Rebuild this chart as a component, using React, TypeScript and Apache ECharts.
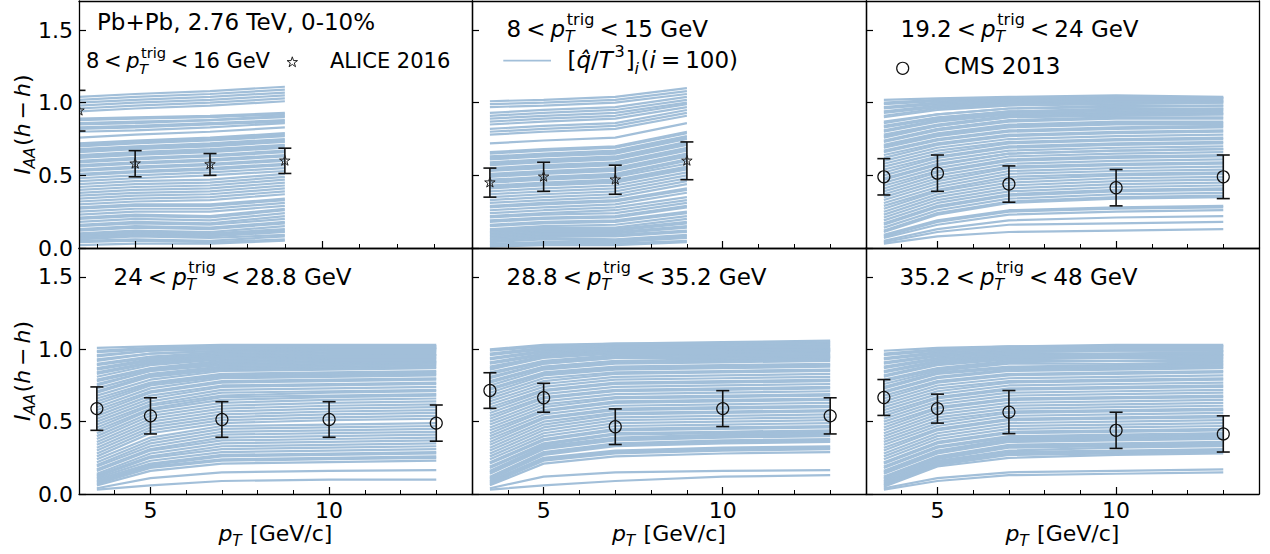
import React, { useEffect, useRef } from "react";
import * as echarts from "echarts";

// ---------------- data ----------------
const aliceX = [3.5, 5, 7, 9];
const cmsX = [3.5, 5, 7, 10, 13];
const yTicks = [0, 0.5, 1.0, 1.5];
const xMajor = [5, 10];
const xMinor = [4, 6, 7, 8, 9, 11, 12, 13];

// ALICE 2016 points: [pT, IAA, error]
const alice8to16 = [[3.5, 0.945, 0.14], [5, 0.58, 0.09], [7, 0.575, 0.075], [9, 0.6, 0.087]];
const alice8to15 = [[3.5, 0.45, 0.1], [5, 0.49, 0.1], [7, 0.47, 0.1], [9, 0.6, 0.13]];
// CMS 2013 points
const cms19to24 = [[3.5, 0.49, 0.125], [5, 0.515, 0.125], [7, 0.44, 0.125], [10, 0.415, 0.125], [13, 0.49, 0.15]];
const cms24to29 = [[3.5, 0.59, 0.15], [5, 0.54, 0.125], [7, 0.515, 0.123], [10, 0.515, 0.123], [13, 0.49, 0.125]];
const cms29to35 = [[3.5, 0.715, 0.123], [5, 0.665, 0.1], [7, 0.465, 0.123], [10, 0.59, 0.124], [13, 0.54, 0.125]];
const cms35to48 = [[3.5, 0.667, 0.124], [5, 0.59, 0.1], [7, 0.566, 0.149], [10, 0.44, 0.125], [13, 0.415, 0.125]];

// model curves [qhat/T^3]_i, values at aliceX
const model8to16 = [
  [1.04, 1.06, 1.08, 1.11], [1.02, 1.04, 1.06, 1.09], [1.0, 1.02, 1.04, 1.07], [0.98, 1.0, 1.02, 1.05], [0.96, 0.98, 1.0, 1.03], [0.94, 0.96, 0.98, 1.01],
  [0.89, 0.9, 0.91, 0.93], [0.88, 0.89, 0.9, 0.92], [0.86, 0.87, 0.88, 0.91], [0.85, 0.86, 0.88, 0.9], [0.83, 0.84, 0.86, 0.88], [0.82, 0.83, 0.85, 0.87], [0.8, 0.81, 0.83, 0.86], [0.76, 0.78, 0.8, 0.83],
  [0.72, 0.74, 0.76, 0.79], [0.71, 0.73, 0.75, 0.78], [0.7, 0.72, 0.74, 0.77], [0.68, 0.7, 0.72, 0.75], [0.67, 0.69, 0.71, 0.74], [0.66, 0.68, 0.7, 0.73], [0.64, 0.66, 0.68, 0.71], [0.63, 0.65, 0.67, 0.7], [0.62, 0.64, 0.66, 0.69],
  [0.6, 0.62, 0.64, 0.67], [0.59, 0.61, 0.63, 0.66], [0.57, 0.59, 0.61, 0.64], [0.56, 0.58, 0.6, 0.63], [0.54, 0.56, 0.58, 0.61], [0.53, 0.55, 0.57, 0.6], [0.51, 0.53, 0.55, 0.58], [0.5, 0.52, 0.54, 0.57], [0.48, 0.5, 0.52, 0.55],
  [0.46, 0.48, 0.5, 0.53], [0.44, 0.46, 0.47, 0.51], [0.42, 0.44, 0.45, 0.49], [0.4, 0.42, 0.43, 0.47], [0.38, 0.4, 0.41, 0.45], [0.36, 0.38, 0.39, 0.43], [0.34, 0.36, 0.37, 0.41], [0.32, 0.34, 0.35, 0.39], [0.3, 0.32, 0.33, 0.37],
  [0.28, 0.3, 0.3, 0.34], [0.27, 0.29, 0.29, 0.33], [0.25, 0.27, 0.27, 0.31], [0.23, 0.25, 0.25, 0.29], [0.21, 0.23, 0.22, 0.27], [0.2, 0.22, 0.21, 0.26], [0.18, 0.2, 0.19, 0.24], [0.16, 0.18, 0.17, 0.22], [0.15, 0.17, 0.16, 0.2],
  [0.13, 0.15, 0.14, 0.18], [0.12, 0.14, 0.13, 0.17], [0.1, 0.12, 0.11, 0.15], [0.09, 0.11, 0.1, 0.13], [0.08, 0.1, 0.09, 0.12], [0.07, 0.09, 0.08, 0.11], [0.06, 0.08, 0.07, 0.09], [0.05, 0.06, 0.05, 0.08], [0.04, 0.05, 0.04, 0.06], [0.02, 0.03, 0.03, 0.05],
];

const model8to15 = [
  [1.01, 1.02, 1.04, 1.1], [0.99, 1.0, 1.02, 1.08], [0.97, 0.98, 1.0, 1.06], [0.93, 0.95, 0.97, 1.04], [0.91, 0.93, 0.95, 1.02], [0.89, 0.91, 0.93, 1.0], [0.87, 0.89, 0.91, 0.99], [0.85, 0.87, 0.89, 0.97], [0.82, 0.84, 0.86, 0.95], [0.8, 0.82, 0.84, 0.93], [0.78, 0.8, 0.82, 0.91], [0.72, 0.74, 0.76, 0.86],
  [0.66, 0.68, 0.7, 0.8], [0.65, 0.67, 0.69, 0.79], [0.63, 0.65, 0.67, 0.77], [0.62, 0.64, 0.66, 0.76], [0.61, 0.63, 0.65, 0.75], [0.59, 0.61, 0.63, 0.73], [0.58, 0.6, 0.62, 0.72], [0.57, 0.59, 0.61, 0.71], [0.55, 0.57, 0.59, 0.69], [0.54, 0.56, 0.58, 0.68],
  [0.53, 0.55, 0.57, 0.67], [0.51, 0.53, 0.55, 0.65], [0.5, 0.52, 0.54, 0.64], [0.49, 0.51, 0.53, 0.63], [0.47, 0.49, 0.51, 0.61], [0.46, 0.48, 0.5, 0.6], [0.45, 0.47, 0.49, 0.58], [0.43, 0.45, 0.47, 0.56], [0.42, 0.44, 0.46, 0.55], [0.41, 0.43, 0.45, 0.54],
  [0.39, 0.41, 0.43, 0.52], [0.37, 0.39, 0.41, 0.5], [0.35, 0.37, 0.39, 0.48], [0.33, 0.35, 0.37, 0.46], [0.31, 0.33, 0.35, 0.44], [0.29, 0.31, 0.33, 0.41], [0.28, 0.3, 0.32, 0.4], [0.26, 0.28, 0.3, 0.38], [0.24, 0.26, 0.28, 0.35], [0.22, 0.24, 0.26, 0.33],
  [0.21, 0.23, 0.24, 0.31], [0.19, 0.21, 0.22, 0.29], [0.18, 0.2, 0.21, 0.28], [0.16, 0.18, 0.19, 0.25], [0.15, 0.17, 0.18, 0.24], [0.13, 0.15, 0.16, 0.22], [0.12, 0.14, 0.14, 0.2], [0.11, 0.13, 0.13, 0.18], [0.1, 0.12, 0.12, 0.17], [0.09, 0.11, 0.11, 0.15],
  [0.08, 0.1, 0.1, 0.14], [0.07, 0.09, 0.09, 0.12], [0.06, 0.08, 0.08, 0.11], [0.05, 0.07, 0.06, 0.09], [0.04, 0.06, 0.05, 0.08], [0.03, 0.04, 0.04, 0.07], [0.02, 0.03, 0.03, 0.05], [0.01, 0.02, 0.02, 0.04],
];

// values at cmsX
const model19to24 = [
  [1.02, 1.03, 1.04, 1.05, 1.04], [1.0, 1.02, 1.03, 1.04, 1.035], [0.99, 1.01, 1.02, 1.03, 1.03], [0.97, 1.0, 1.02, 1.03, 1.03], [0.96, 0.99, 1.01, 1.02, 1.02], [0.94, 0.98, 1.0, 1.01, 1.01],
  [0.93, 0.97, 1.0, 1.01, 1.01], [0.91, 0.96, 0.99, 1.0, 1.0], [0.9, 0.95, 0.98, 0.99, 1.0], [0.87, 0.92, 0.96, 0.98, 0.98], [0.86, 0.92, 0.96, 0.97, 0.98], [0.84, 0.9, 0.94, 0.96, 0.96],
  [0.83, 0.89, 0.94, 0.95, 0.96], [0.81, 0.88, 0.93, 0.94, 0.95], [0.8, 0.87, 0.92, 0.93, 0.94], [0.78, 0.85, 0.91, 0.92, 0.93], [0.77, 0.84, 0.9, 0.92, 0.92], [0.76, 0.84, 0.9, 0.91, 0.92],
  [0.74, 0.82, 0.88, 0.9, 0.9], [0.73, 0.81, 0.87, 0.89, 0.89], [0.71, 0.79, 0.85, 0.87, 0.87], [0.7, 0.78, 0.84, 0.86, 0.86], [0.69, 0.77, 0.83, 0.85, 0.85], [0.67, 0.75, 0.81, 0.83, 0.84],
  [0.66, 0.74, 0.8, 0.82, 0.83], [0.64, 0.72, 0.78, 0.8, 0.81], [0.62, 0.71, 0.77, 0.79, 0.8], [0.6, 0.69, 0.75, 0.77, 0.78], [0.58, 0.67, 0.73, 0.75, 0.76], [0.56, 0.65, 0.72, 0.74, 0.75],
  [0.54, 0.63, 0.7, 0.72, 0.73], [0.52, 0.62, 0.69, 0.71, 0.72], [0.5, 0.6, 0.67, 0.69, 0.7], [0.48, 0.58, 0.65, 0.67, 0.68], [0.47, 0.57, 0.65, 0.67, 0.68], [0.45, 0.55, 0.63, 0.65, 0.66],
  [0.43, 0.53, 0.61, 0.63, 0.64], [0.41, 0.52, 0.6, 0.62, 0.63], [0.39, 0.5, 0.58, 0.6, 0.61], [0.37, 0.48, 0.56, 0.58, 0.59], [0.35, 0.46, 0.55, 0.57, 0.58], [0.33, 0.44, 0.53, 0.55, 0.56],
  [0.31, 0.42, 0.51, 0.53, 0.54], [0.29, 0.4, 0.49, 0.51, 0.52], [0.27, 0.39, 0.47, 0.5, 0.51], [0.25, 0.37, 0.45, 0.48, 0.49], [0.23, 0.35, 0.43, 0.46, 0.47], [0.21, 0.33, 0.41, 0.44, 0.45],
  [0.19, 0.31, 0.39, 0.42, 0.43], [0.17, 0.29, 0.37, 0.4, 0.41], [0.16, 0.28, 0.36, 0.39, 0.4], [0.14, 0.26, 0.34, 0.37, 0.38], [0.12, 0.24, 0.32, 0.35, 0.36], [0.11, 0.23, 0.31, 0.34, 0.35],
  [0.09, 0.19, 0.26, 0.28, 0.29], [0.08, 0.18, 0.25, 0.27, 0.28], [0.07, 0.16, 0.23, 0.25, 0.26], [0.05, 0.13, 0.19, 0.21, 0.22], [0.04, 0.11, 0.16, 0.17, 0.18], [0.03, 0.08, 0.11, 0.12, 0.13],
];

const model24to29 = [
  [1.01, 1.02, 1.03, 1.03, 1.03], [0.99, 1.01, 1.02, 1.02, 1.02], [0.98, 1.0, 1.02, 1.02, 1.02], [0.96, 0.99, 1.01, 1.01, 1.01], [0.95, 0.99, 1.0, 1.01, 1.01], [0.93, 0.97, 0.99, 1.0, 1.0],
  [0.92, 0.97, 0.99, 1.0, 1.0], [0.9, 0.95, 0.98, 0.99, 0.99], [0.89, 0.94, 0.97, 0.98, 0.98], [0.87, 0.93, 0.96, 0.97, 0.97], [0.86, 0.92, 0.95, 0.96, 0.96], [0.84, 0.91, 0.95, 0.95, 0.96],
  [0.83, 0.9, 0.94, 0.95, 0.95], [0.81, 0.89, 0.93, 0.94, 0.94], [0.79, 0.87, 0.92, 0.93, 0.93], [0.78, 0.86, 0.91, 0.92, 0.92], [0.76, 0.85, 0.9, 0.91, 0.91], [0.75, 0.85, 0.89, 0.9, 0.91],
  [0.73, 0.83, 0.88, 0.89, 0.9], [0.71, 0.82, 0.87, 0.88, 0.89], [0.7, 0.81, 0.86, 0.87, 0.88], [0.68, 0.79, 0.85, 0.86, 0.87], [0.66, 0.77, 0.83, 0.84, 0.85], [0.64, 0.76, 0.82, 0.83, 0.84],
  [0.62, 0.75, 0.81, 0.82, 0.83], [0.6, 0.73, 0.8, 0.81, 0.82], [0.58, 0.71, 0.78, 0.79, 0.8], [0.56, 0.7, 0.77, 0.78, 0.79], [0.54, 0.68, 0.75, 0.76, 0.77], [0.52, 0.66, 0.74, 0.75, 0.76],
  [0.5, 0.64, 0.72, 0.73, 0.74], [0.48, 0.62, 0.7, 0.71, 0.72], [0.46, 0.61, 0.68, 0.7, 0.71], [0.44, 0.59, 0.67, 0.68, 0.69], [0.42, 0.58, 0.65, 0.67, 0.68], [0.4, 0.56, 0.63, 0.65, 0.66],
  [0.38, 0.54, 0.61, 0.63, 0.64], [0.36, 0.52, 0.59, 0.61, 0.62], [0.34, 0.5, 0.57, 0.59, 0.6], [0.32, 0.48, 0.55, 0.57, 0.58], [0.3, 0.46, 0.53, 0.55, 0.56], [0.28, 0.44, 0.51, 0.53, 0.54],
  [0.26, 0.42, 0.49, 0.51, 0.52], [0.24, 0.39, 0.47, 0.48, 0.49], [0.22, 0.37, 0.45, 0.46, 0.47], [0.2, 0.35, 0.43, 0.44, 0.45], [0.19, 0.33, 0.41, 0.42, 0.43], [0.17, 0.31, 0.39, 0.4, 0.41],
  [0.16, 0.3, 0.37, 0.38, 0.39], [0.14, 0.28, 0.35, 0.36, 0.37], [0.13, 0.26, 0.33, 0.34, 0.35], [0.12, 0.25, 0.31, 0.32, 0.33], [0.11, 0.23, 0.29, 0.3, 0.31], [0.1, 0.21, 0.27, 0.28, 0.29],
  [0.09, 0.2, 0.26, 0.27, 0.28], [0.08, 0.19, 0.24, 0.25, 0.26], [0.07, 0.18, 0.23, 0.24, 0.25], [0.06, 0.16, 0.21, 0.22, 0.23], [0.04, 0.11, 0.15, 0.16, 0.165], [0.03, 0.06, 0.09, 0.1, 0.1],
];

const model29to35 = [
  [1.0, 1.03, 1.04, 1.05, 1.06], [0.99, 1.02, 1.04, 1.04, 1.05], [0.97, 1.01, 1.03, 1.03, 1.04], [0.96, 1.0, 1.02, 1.02, 1.03], [0.94, 0.99, 1.01, 1.01, 1.02], [0.93, 0.98, 1.0, 1.01, 1.01],
  [0.91, 0.97, 0.99, 1.0, 1.0], [0.9, 0.96, 0.99, 0.99, 1.0], [0.88, 0.95, 0.98, 0.98, 0.99], [0.87, 0.95, 0.98, 0.98, 0.99], [0.86, 0.94, 0.97, 0.97, 0.98], [0.84, 0.92, 0.96, 0.96, 0.97],
  [0.83, 0.91, 0.95, 0.96, 0.96], [0.81, 0.9, 0.94, 0.95, 0.95], [0.8, 0.9, 0.94, 0.94, 0.95], [0.78, 0.88, 0.92, 0.93, 0.94], [0.77, 0.87, 0.91, 0.92, 0.93], [0.75, 0.86, 0.9, 0.91, 0.92],
  [0.73, 0.84, 0.88, 0.89, 0.9], [0.72, 0.83, 0.87, 0.88, 0.89], [0.7, 0.82, 0.86, 0.87, 0.88], [0.68, 0.8, 0.84, 0.85, 0.86], [0.66, 0.78, 0.83, 0.84, 0.85], [0.64, 0.76, 0.81, 0.82, 0.83],
  [0.62, 0.74, 0.79, 0.8, 0.81], [0.6, 0.72, 0.77, 0.78, 0.79], [0.58, 0.71, 0.76, 0.77, 0.78], [0.56, 0.69, 0.74, 0.75, 0.76], [0.54, 0.67, 0.72, 0.73, 0.74], [0.52, 0.66, 0.71, 0.72, 0.73],
  [0.5, 0.64, 0.69, 0.7, 0.71], [0.48, 0.62, 0.67, 0.68, 0.69], [0.46, 0.6, 0.66, 0.67, 0.68], [0.44, 0.58, 0.64, 0.65, 0.66], [0.42, 0.57, 0.63, 0.64, 0.65], [0.4, 0.55, 0.61, 0.62, 0.63],
  [0.38, 0.53, 0.59, 0.6, 0.61], [0.36, 0.52, 0.58, 0.59, 0.6], [0.34, 0.5, 0.56, 0.57, 0.58], [0.32, 0.48, 0.55, 0.56, 0.57], [0.3, 0.46, 0.53, 0.54, 0.55], [0.28, 0.44, 0.51, 0.52, 0.53],
  [0.26, 0.42, 0.49, 0.5, 0.51], [0.24, 0.4, 0.47, 0.48, 0.49], [0.22, 0.38, 0.45, 0.46, 0.47], [0.21, 0.37, 0.44, 0.45, 0.46], [0.19, 0.35, 0.42, 0.43, 0.44], [0.18, 0.34, 0.41, 0.42, 0.43],
  [0.16, 0.33, 0.39, 0.41, 0.42], [0.15, 0.32, 0.38, 0.4, 0.41], [0.14, 0.31, 0.37, 0.39, 0.4], [0.12, 0.29, 0.35, 0.37, 0.38], [0.11, 0.28, 0.34, 0.36, 0.37], [0.1, 0.27, 0.33, 0.35, 0.36],
  [0.09, 0.25, 0.3, 0.32, 0.33], [0.08, 0.24, 0.29, 0.31, 0.32], [0.07, 0.23, 0.28, 0.3, 0.31], [0.06, 0.21, 0.26, 0.28, 0.29], [0.04, 0.12, 0.15, 0.16, 0.165], [0.03, 0.06, 0.09, 0.12, 0.13],
];

const model35to48 = [
  [0.99, 1.01, 1.02, 1.03, 1.03], [0.97, 1.0, 1.02, 1.02, 1.02], [0.96, 0.99, 1.01, 1.02, 1.02], [0.94, 0.98, 1.0, 1.01, 1.01], [0.93, 0.97, 0.99, 1.0, 1.0], [0.91, 0.96, 0.98, 0.99, 0.99],
  [0.9, 0.95, 0.98, 0.99, 0.99], [0.88, 0.94, 0.97, 0.97, 0.98], [0.87, 0.93, 0.96, 0.97, 0.97], [0.85, 0.92, 0.95, 0.96, 0.96], [0.84, 0.91, 0.95, 0.95, 0.96], [0.82, 0.9, 0.94, 0.94, 0.95],
  [0.81, 0.89, 0.93, 0.94, 0.94], [0.79, 0.87, 0.92, 0.92, 0.93], [0.78, 0.86, 0.91, 0.92, 0.92], [0.76, 0.85, 0.9, 0.9, 0.91], [0.74, 0.84, 0.88, 0.89, 0.9], [0.73, 0.83, 0.87, 0.88, 0.89],
  [0.71, 0.81, 0.86, 0.87, 0.88], [0.7, 0.8, 0.85, 0.86, 0.87], [0.68, 0.78, 0.83, 0.84, 0.85], [0.66, 0.77, 0.82, 0.83, 0.84], [0.64, 0.75, 0.8, 0.81, 0.82], [0.62, 0.73, 0.78, 0.79, 0.8],
  [0.6, 0.71, 0.77, 0.78, 0.79], [0.58, 0.69, 0.75, 0.76, 0.77], [0.56, 0.67, 0.73, 0.74, 0.75], [0.54, 0.66, 0.72, 0.73, 0.74], [0.52, 0.64, 0.7, 0.71, 0.72], [0.5, 0.62, 0.68, 0.69, 0.7],
  [0.48, 0.6, 0.66, 0.67, 0.68], [0.46, 0.59, 0.65, 0.66, 0.67], [0.44, 0.57, 0.63, 0.64, 0.65], [0.42, 0.55, 0.61, 0.62, 0.63], [0.4, 0.53, 0.59, 0.6, 0.61], [0.38, 0.51, 0.57, 0.58, 0.59],
  [0.36, 0.49, 0.56, 0.57, 0.58], [0.34, 0.47, 0.54, 0.55, 0.56], [0.32, 0.45, 0.52, 0.53, 0.54], [0.3, 0.44, 0.51, 0.52, 0.53], [0.28, 0.42, 0.49, 0.5, 0.51], [0.26, 0.4, 0.47, 0.48, 0.49],
  [0.24, 0.38, 0.45, 0.46, 0.47], [0.22, 0.36, 0.43, 0.44, 0.45], [0.21, 0.35, 0.42, 0.43, 0.44], [0.19, 0.33, 0.4, 0.41, 0.42], [0.18, 0.32, 0.39, 0.4, 0.41], [0.16, 0.3, 0.38, 0.39, 0.4],
  [0.15, 0.29, 0.37, 0.38, 0.39], [0.14, 0.28, 0.36, 0.37, 0.38], [0.12, 0.26, 0.34, 0.35, 0.36], [0.11, 0.25, 0.33, 0.34, 0.35], [0.1, 0.24, 0.32, 0.33, 0.34], [0.09, 0.23, 0.3, 0.32, 0.33],
  [0.08, 0.22, 0.29, 0.3, 0.31], [0.07, 0.21, 0.28, 0.29, 0.3], [0.06, 0.2, 0.27, 0.28, 0.29], [0.05, 0.19, 0.25, 0.27, 0.28], [0.04, 0.11, 0.15, 0.16, 0.17], [0.03, 0.09, 0.13, 0.14, 0.15],
];

// ---------------- layout / style ----------------
const FF = '"DejaVu Sans", "Liberation Sans", sans-serif';
const FS = 22; // axis text
const FA = 23; // in-panel annotations
const LINE_COLOR = "#a2bfd9";
const INK = "#000";

const PANELS = [
  { model: model8to16, xs: aliceX, pts: alice8to16, mk: "star", xmin: 3.5, box: [79, 1, 393, 247], row: 0, col: 0, lo: "8", hi: "16", lx: 86, lb: 68.3, lf: 21 },
  { model: model8to15, xs: aliceX, pts: alice8to15, mk: "star", xmin: 3, box: [472, 1, 394, 247], row: 0, col: 1, lo: "8", hi: "15", lx: 506.5, lb: 36.7, lf: FA },
  { model: model19to24, xs: cmsX, pts: cms19to24, mk: "circle", xmin: 3, box: [866, 1, 393, 247], row: 0, col: 2, lo: "19.2", hi: "24", lx: 900.5, lb: 36.7, lf: FA },
  { model: model24to29, xs: cmsX, pts: cms24to29, mk: "circle", xmin: 3, box: [79, 248, 393, 246], row: 1, col: 0, lo: "24", hi: "28.8", lx: 113.5, lb: 285, lf: FA },
  { model: model29to35, xs: cmsX, pts: cms29to35, mk: "circle", xmin: 3, box: [472, 248, 394, 246], row: 1, col: 1, lo: "28.8", hi: "35.2", lx: 506.5, lb: 285, lf: FA },
  { model: model35to48, xs: cmsX, pts: cms35to48, mk: "circle", xmin: 3, box: [866, 248, 393, 246], row: 1, col: 2, lo: "35.2", hi: "48", lx: 899.5, lb: 285, lf: FA },
];

let measureCtx: CanvasRenderingContext2D | null = null;
function textWidth(t: string, size: number, italic: boolean): number {
  if (!measureCtx) measureCtx = document.createElement("canvas").getContext("2d");
  if (!measureCtx) return t.length * size * 0.6;
  measureCtx.font = `${italic ? "italic " : ""}${size}px ${FF}`;
  return measureCtx.measureText(t).width;
}

function textEl(t: string, x: number, baseline: number, size: number, italic: boolean) {
  return {
    type: "text",
    x,
    y: baseline - 0.35 * size,
    silent: true,
    z: 100,
    style: {
      text: t,
      fontSize: size,
      fontFamily: FF,
      fontStyle: italic ? "italic" : "normal",
      fill: INK,
      align: "left",
      verticalAlign: "middle",
    },
  };
}

type Tok = { t?: string; it?: boolean; gap?: number; sup?: string; sub?: string; supIt?: boolean; subIt?: boolean };

function layoutMath(x0: number, base: number, toks: Tok[], fs: number) {
  const els: any[] = [];
  let x = x0;
  for (const k of toks) {
    if (k.gap) {
      x += k.gap * fs;
      continue;
    }
    if (k.sup !== undefined || k.sub !== undefined) {
      const s = fs * 0.7;
      let w = 0;
      if (k.sup !== undefined) {
        const it = !!k.supIt;
        els.push(textEl(k.sup, x + 0.07 * fs, base - 0.5 * fs, s, it));
        w = Math.max(w, 0.07 * fs + textWidth(k.sup, s, it));
      }
      if (k.sub !== undefined) {
        const it = k.subIt !== false;
        els.push(textEl(k.sub, x - 0.02 * fs, base + 0.24 * fs, s, it));
        w = Math.max(w, textWidth(k.sub, s, it));
      }
      x += w + 0.05 * fs;
      continue;
    }
    const it = !!k.it;
    els.push(textEl(k.t as string, x, base, fs, it));
    x += textWidth(k.t as string, fs, it);
  }
  return { els, width: x - x0 };
}

function trigToks(lo: string, hi: string): Tok[] {
  return [
    { t: lo }, { gap: 0.22 }, { t: "<" }, { gap: 0.22 }, { t: "p", it: true }, { sup: "trig", sub: "T" },
    { gap: 0.17 }, { t: "<" }, { gap: 0.22 }, { t: hi + " GeV" },
  ];
}

function starPoints(cx: number, cy: number, R: number) {
  const pts: number[][] = [];
  for (let i = 0; i < 10; i++) {
    const r = i % 2 ? R * 0.382 : R;
    const a = -Math.PI / 2 + (i * Math.PI) / 5;
    pts.push([cx + r * Math.cos(a), cy + r * Math.sin(a)]);
  }
  return pts;
}

function buildOption() {
  const grid: any[] = [];
  const xAxis: any[] = [];
  const yAxis: any[] = [];
  const series: any[] = [];
  const spine = { show: true, onZero: false, lineStyle: { color: INK, width: 1.3 } };
  const lbl = { fontSize: FS, fontFamily: FF, color: INK };

  PANELS.forEach((p, i) => {
    const [l, t, w, h] = p.box;
    grid.push({ left: l, top: t, width: w, height: h, show: false });
    xAxis.push({
      gridIndex: i, type: "value", min: p.xmin, max: 14, position: "bottom", z: 10,
      axisLine: spine,
      axisTick: { show: true, inside: true, length: 7, customValues: xMajor, lineStyle: { color: INK, width: 1.2 } },
      axisLabel: { show: p.row === 1, customValues: xMajor, margin: 5, ...lbl },
      splitLine: { show: false },
    });
    xAxis.push({
      gridIndex: i, type: "value", min: p.xmin, max: 14, position: "bottom", z: 10,
      axisLine: { show: false },
      axisTick: { show: true, inside: true, length: 4, customValues: xMinor, lineStyle: { color: INK, width: 1 } },
      axisLabel: { show: false },
      splitLine: { show: false },
    });
    xAxis.push({
      gridIndex: i, type: "value", min: p.xmin, max: 14, position: "top", z: 10,
      axisLine: spine, axisTick: { show: false }, axisLabel: { show: false }, splitLine: { show: false },
    });
    yAxis.push({
      gridIndex: i, type: "value", min: 0, max: 1.7, position: "left", z: 10,
      axisLine: spine,
      axisTick: { show: true, inside: true, length: 7, customValues: yTicks, lineStyle: { color: INK, width: 1.2 } },
      axisLabel: { show: p.col === 0, customValues: yTicks, margin: 6, formatter: (v: number) => v.toFixed(1), ...lbl },
      splitLine: { show: false },
    });
    yAxis.push({
      gridIndex: i, type: "value", min: 0, max: 1.7, position: "right", z: 10,
      axisLine: spine, axisTick: { show: false }, axisLabel: { show: false }, splitLine: { show: false },
    });

    p.model.forEach((row) => {
      series.push({
        type: "line",
        xAxisIndex: 3 * i,
        yAxisIndex: 2 * i,
        data: row.map((v, j) => [p.xs[j], v]),
        symbol: "none",
        showSymbol: false,
        silent: true,
        clip: true,
        z: 2,
        lineStyle: { color: LINE_COLOR, width: 2.2 },
        emphasis: { disabled: true },
      });
    });

    const mk = p.mk;
    series.push({
      type: "custom",
      xAxisIndex: 3 * i,
      yAxisIndex: 2 * i,
      data: p.pts,
      clip: true,
      silent: true,
      z: 5,
      renderItem: (_params: any, api: any) => {
        const x = api.value(0);
        const y = api.value(1);
        const e = api.value(2);
        const c = api.coord([x, y]);
        const tp = api.coord([x, y + e]);
        const bt = api.coord([x, y - e]);
        const cap = 6.5;
        const st = { stroke: "#111", lineWidth: 1.6 };
        const children: any[] = [
          { type: "line", shape: { x1: c[0], y1: tp[1], x2: c[0], y2: bt[1] }, style: st },
          { type: "line", shape: { x1: c[0] - cap, y1: tp[1], x2: c[0] + cap, y2: tp[1] }, style: st },
          { type: "line", shape: { x1: c[0] - cap, y1: bt[1], x2: c[0] + cap, y2: bt[1] }, style: st },
        ];
        if (mk === "star") {
          children.push({ type: "polygon", shape: { points: starPoints(c[0], c[1], 5.5) }, style: { fill: "none", stroke: "#222", lineWidth: 1 } });
        } else {
          children.push({ type: "circle", shape: { cx: c[0], cy: c[1], r: 6 }, style: { fill: "none", stroke: "#111", lineWidth: 1.2 } });
        }
        return { type: "group", children };
      },
    });
  });

  // ---- texts (graphic) ----
  const graphic: any[] = [];
  graphic.push(...layoutMath(97, 30.5, [{ t: "Pb+Pb, 2.76 TeV, 0-10%" }], FA).els);
  PANELS.forEach((p) => {
    graphic.push(...layoutMath(p.lx, p.lb, trigToks(p.lo, p.hi), p.lf).els);
  });
  // legend: ALICE
  graphic.push({ type: "polygon", z: 100, silent: true, shape: { points: starPoints(292.3, 62.3, 5.5) }, style: { fill: "none", stroke: "#222", lineWidth: 1 } });
  graphic.push(textEl("ALICE 2016", 330, 68.3, 21, false));
  // legend: model curves
  graphic.push({ type: "line", z: 100, silent: true, shape: { x1: 503.3, y1: 60.7, x2: 551, y2: 60.7 }, style: { stroke: LINE_COLOR, lineWidth: 1.8 } });
  graphic.push(
    ...layoutMath(567.5, 68.3, [
      { t: "[" }, { t: "q\u0302", it: true }, { t: "/" }, { t: "T", it: true }, { sup: "3" }, { t: "]" }, { sub: "i" },
      { t: "(" }, { t: "i", it: true }, { gap: 0.22 }, { t: "=" }, { gap: 0.22 }, { t: "100)" },
    ], FA).els
  );
  // legend: CMS
  graphic.push({ type: "circle", z: 100, silent: true, shape: { cx: 902.7, cy: 68.3, r: 6 }, style: { fill: "none", stroke: "#111", lineWidth: 1.2 } });
  graphic.push(textEl("CMS 2013", 944, 74, FA, false));

  // axis titles
  const xTok: Tok[] = [{ t: "p", it: true }, { sub: "T" }, { t: " [GeV/c]" }];
  const xw = layoutMath(0, 0, xTok, FS).width;
  [0, 1, 2].forEach((c) => {
    const [l, , w] = PANELS[c].box;
    graphic.push(...layoutMath(l + w / 2 - xw / 2, 541, xTok, FS).els);
  });
  const yTok: Tok[] = [
    { t: "I", it: true }, { sub: "AA" }, { t: "(" }, { t: "h", it: true }, { gap: 0.18 }, { t: "\u2212" }, { gap: 0.18 }, { t: "h", it: true }, { t: ")" },
  ];
  const yw = layoutMath(0, 0, yTok, FS).width;
  [124.5, 371].forEach((cy) => {
    graphic.push({ type: "group", x: 30, y: cy, rotation: Math.PI / 2, children: layoutMath(-yw / 2, 0, yTok, FS).els });
  });

  return {
    animation: false,
    backgroundColor: "#fff",
    grid,
    xAxis,
    yAxis,
    series,
    graphic: { elements: graphic },
  };
}

export default function App() {
  const ref = useRef<HTMLDivElement>(null);
  useEffect(() => {
    if (!ref.current) return;
    const chart = echarts.init(ref.current, undefined, { renderer: "svg" });
    chart.setOption(buildOption() as any);
    return () => chart.dispose();
  }, []);
  return <div ref={ref} style={{ position: "absolute", left: 0, top: 0, width: 1270, height: 554, background: "#fff" }} />;
}
